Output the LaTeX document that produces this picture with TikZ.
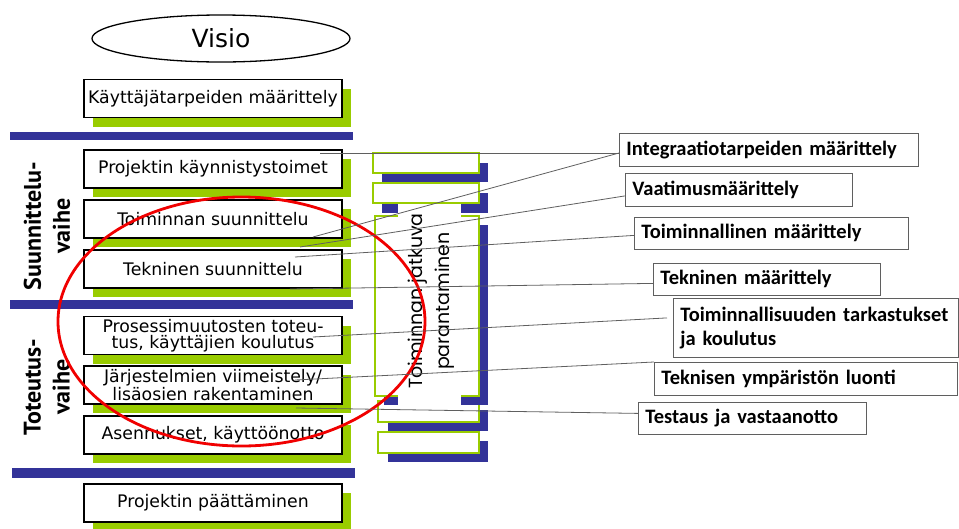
\documentclass[tikz,border=0pt]{standalone}
\usepackage{fontspec}
\usetikzlibrary{shapes.geometric,shadows}
\newfontfamily\comicfont{DejaVu Sans}
\newfontfamily\phasefont{PT Sans}
\newfontfamily\calfont{Carlito}
\newfontfamily\gothfont{Poppins}
\definecolor{phasegreen}{RGB}{153,204,0}
\definecolor{barblue}{RGB}{51,51,153}
\definecolor{linegray}{RGB}{95,95,95}
\definecolor{ringred}{RGB}{240,0,0}

\begin{document}
\begin{tikzpicture}[x=1pt,y=-1pt,
  stagebox/.style={draw, line width=1.3pt, fill=white, minimum width=258pt, minimum height=38pt,
    inner sep=1pt, align=center, font=\comicfont\fontsize{17.3}{16.5}\selectfont,
    drop shadow={shadow xshift=9pt, shadow yshift=-9pt, fill=phasegreen, opacity=1}},
  taskbox/.style={draw=linegray, line width=0.8pt, fill=white, anchor=north west, inner xsep=7pt,
    inner ysep=0pt, align=left, font=\calfont\bfseries\fontsize{20.5}{24}\selectfont},
  phaselabel/.style={rotate=90, align=center, font=\phasefont\bfseries\fontsize{24}{29}\selectfont},
  phasebar/.style={fill=barblue},
  loopbox/.style={draw=phasegreen, line width=1.2pt, fill=white},
  loopshade/.style={fill=barblue},
  link/.style={draw=linegray, line width=0.8pt}]
\useasboundingbox (0,0) rectangle (959,528);

% vision
\node[draw, ellipse, line width=1.3pt, minimum width=258pt, minimum height=47pt,
  font=\comicfont\fontsize{25}{25}\selectfont] (vision) at (221,38.5) {Visio};

% phase bars
\fill[phasebar] (10,132) rectangle (353,140);
\fill[phasebar] (10,300) rectangle (353,309);
\fill[phasebar] (12,468) rectangle (355,478);

% project stages
\node[stagebox] (needs) at (213,98.5) {Käyttäjätarpeiden määrittely};
\node[stagebox] (kickoff) at (213,169) {Projektin käynnistystoimet};
\node[stagebox] (opsplan) at (213,219) {Toiminnan suunnittelu};
\node[stagebox] (techplan) at (213,269) {Tekninen suunnittelu};
\node[stagebox] (procimpl) at (213,335.5) {Prosessimuutosten toteu-\\tus, käyttäjien koulutus};
\node[stagebox] (sysfinish) at (213,385) {Järjestelmien viimeistely/\\lisäosien rakentaminen};
\node[stagebox] (install) at (213,435) {Asennukset, käyttöönotto};
\node[stagebox] (closing) at (213,503) {Projektin päättäminen};

\node[phaselabel] (planphase) at (47,226) {Suunnittelu-\\vaihe};
\node[phaselabel] (implphase) at (47,387) {Toteutus-\\vaihe};

% continuous improvement column
\fill[loopshade] (382,163) rectangle (488,182);
\draw[loopbox] (373,153) rectangle (479,173);
\fill[loopshade] (382,193) rectangle (488,213);
\draw[loopbox] (373,183) rectangle (479,203);
\fill[loopshade] (388,441) rectangle (488,462);
\draw[loopbox] (378,432) rectangle (479,453);
\fill[loopshade] (388,410) rectangle (488,431);
\draw[loopbox] (378,401) rectangle (479,422);
\fill[loopshade] (384,225) rectangle (488,405);
\draw[loopbox] (375,216) rectangle (479,396);
\fill[white] (398,204) rectangle (461,406);
\node[rotate=90, align=center, font=\gothfont\fontsize{19}{27}\selectfont] (improve) at (431,301)
  {Toiminnan jatkuva\\parantaminen};

% tasks
\node[taskbox, text width=285pt, minimum height=33pt] (integ) at (619,133) {Integraatiotarpeiden määrittely};
\node[taskbox, text width=213pt, minimum height=33pt] (reqs) at (625,173) {Vaatimusmäärittely};
\node[taskbox, text width=260pt, minimum height=32pt] (funcspec) at (634,217) {Toiminnallinen määrittely};
\node[taskbox, text width=213pt, minimum height=32pt] (techspec) at (653,263) {Tekninen määrittely};
\node[taskbox, text width=271pt, minimum height=59pt] (checks) at (673,298) {Toiminnallisuuden tarkastukset\\ja koulutus};
\node[taskbox, text width=289pt, minimum height=33pt] (envsetup) at (654,362) {Teknisen ympäristön luonti};
\node[taskbox, text width=214pt, minimum height=32pt] (testing) at (638,402) {Testaus ja vastaanotto};

% focus ring
\draw[ringred, line width=2.8pt] (241.5,321.5) ellipse [x radius=183.5, y radius=124.5];

% links
\coordinate (k1) at (320,153);
\coordinate (o1) at (313,237);
\coordinate (o2) at (300,247);
\coordinate (t1) at (295,257);
\coordinate (t2) at (290,289);
\coordinate (p1) at (313,337);
\coordinate (s1) at (295,380);
\coordinate (s2) at (296,408);
\draw[link] (k1) -- (k1 -| integ.west);
\draw[link] (o1) -- (k1 -| integ.west);
\draw[link] (o2) -- ([yshift=-6pt]reqs.west);
\draw[link] (t1) -- ([yshift=-2pt]funcspec.west);
\draw[link] (t2) -- ([yshift=-4pt]techspec.west);
\draw[link] (p1) -- ([shift={(-6pt,10pt)}]checks.west);
\draw[link] (s1) -- (envsetup.north west);
\draw[link] (s2) -- ([yshift=5pt]testing.west);
\end{tikzpicture}
\end{document}
